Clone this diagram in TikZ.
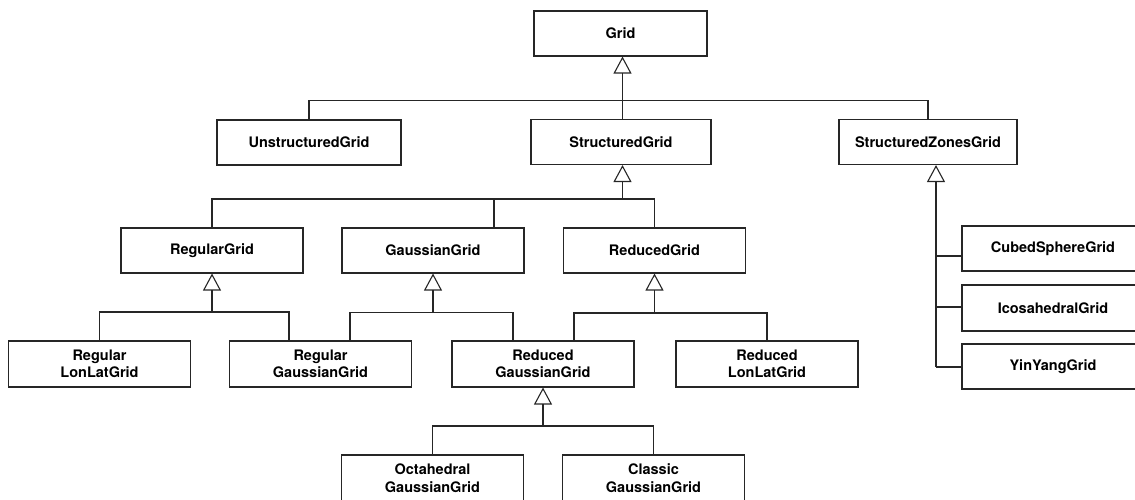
\documentclass[tikz,border=0pt]{standalone}
\usepackage{fontspec}
\setmainfont{TeX Gyre Heros}
\usetikzlibrary{arrows.meta}

\begin{document}
\begin{tikzpicture}[x=1pt, y=-1pt, line width=1.1pt, color=black!85,
    cls/.style={rectangle, draw, fill=white, minimum width=182pt, minimum height=45pt,
      align=center, inner sep=0pt, font=\fontsize{14.5}{17.5}\selectfont\bfseries, text=black},
    inh/.style={-{Triangle[open, length=17pt, width=18pt, line width=1.1pt]}}]
    \useasboundingbox (0,0) rectangle (1135,499);
    \clip (0,0) rectangle (1135,499);

    % classes
    \node[cls, minimum width=173pt] (grid) at (620.5, 33.5) {Grid};
    \node[cls, minimum width=184pt] (unstr) at (309, 142.5) {UnstructuredGrid};
    \node[cls, minimum width=180pt] (struct) at (621, 142) {StructuredGrid};
    \node[cls, minimum width=178pt] (zones) at (928, 142) {StructuredZonesGrid};

    \node[cls] (regular) at (212, 250.5) {RegularGrid};
    \node[cls] (gauss) at (433, 250.5) {GaussianGrid};
    \node[cls] (reduced) at (654.5, 250.5) {ReducedGrid};

    \node[cls, minimum height=46pt] (reglonlat) at (99.5, 364) {Regular\\LonLatGrid};
    \node[cls, minimum height=46pt] (reggauss) at (320.5, 364) {Regular\\GaussianGrid};
    \node[cls, minimum height=46pt] (redgauss) at (543, 364) {Reduced\\GaussianGrid};
    \node[cls, minimum height=46pt] (redlonlat) at (767, 364) {Reduced\\LonLatGrid};

    \node[cls, minimum height=46pt] (octa) at (432.5, 478) {Octahedral\\GaussianGrid};
    \node[cls, minimum height=46pt] (classic) at (653.5, 478) {Classic\\GaussianGrid};

    \node[cls] (cubed) at (1053, 248.5) {CubedSphereGrid};
    \node[cls, minimum height=46pt] (icosa) at (1053, 308) {IcosahedralGrid};
    \node[cls] (yinyang) at (1053, 366.5) {YinYangGrid};

    % junctions
    \coordinate (b1) at (622.5, 100.5);
    \coordinate (b2) at (622.5, 199);
    \coordinate (b3) at (212, 312);
    \coordinate (b4) at (433, 312.5);
    \coordinate (b5) at (654.5, 313);
    \coordinate (b6) at (543, 426);
    \coordinate (b7) at (936, 367);

    % Grid
    \draw[inh] ([xshift=1.5pt]struct.north) -- ([xshift=1.5pt]struct.north |- grid.south);
    \draw (unstr.north) |- (b1) -| (zones.north);

    % StructuredGrid
    \draw[inh] (b2) -- (b2 |- struct.south);
    \draw (regular.north) |- (b2) -| (reduced.north);
    \draw ([xshift=61pt]gauss.north) -- ([xshift=61pt]gauss.north |- b2);

    % RegularGrid
    \draw[inh] (b3) -- (regular.south);
    \draw (reglonlat.north) |- (b3) -| ([xshift=-31.5pt]reggauss.north);

    % GaussianGrid
    \draw[inh] (b4) -- (gauss.south);
    \draw ([xshift=29.5pt]reggauss.north) |- (b4) -| ([xshift=-30pt]redgauss.north);

    % ReducedGrid
    \draw[inh] (b5) -- (reduced.south);
    \draw ([xshift=31pt]redgauss.north) |- (b5) -| (redlonlat.north);

    % ReducedGaussianGrid
    \draw[inh] (b6) -- (redgauss.south);
    \draw (octa.north) |- (b6) -| (classic.north);

    % StructuredZonesGrid
    \draw[inh] (b7) -- (b7 |- zones.south);
    \draw (b7) -- (b7 -| yinyang.west);
    \foreach \n/\dy in {cubed/-7.5, icosa/1}
      \draw ([yshift=\dy pt]\n.west) -- ++(-26,0);
\end{tikzpicture}
\end{document}
